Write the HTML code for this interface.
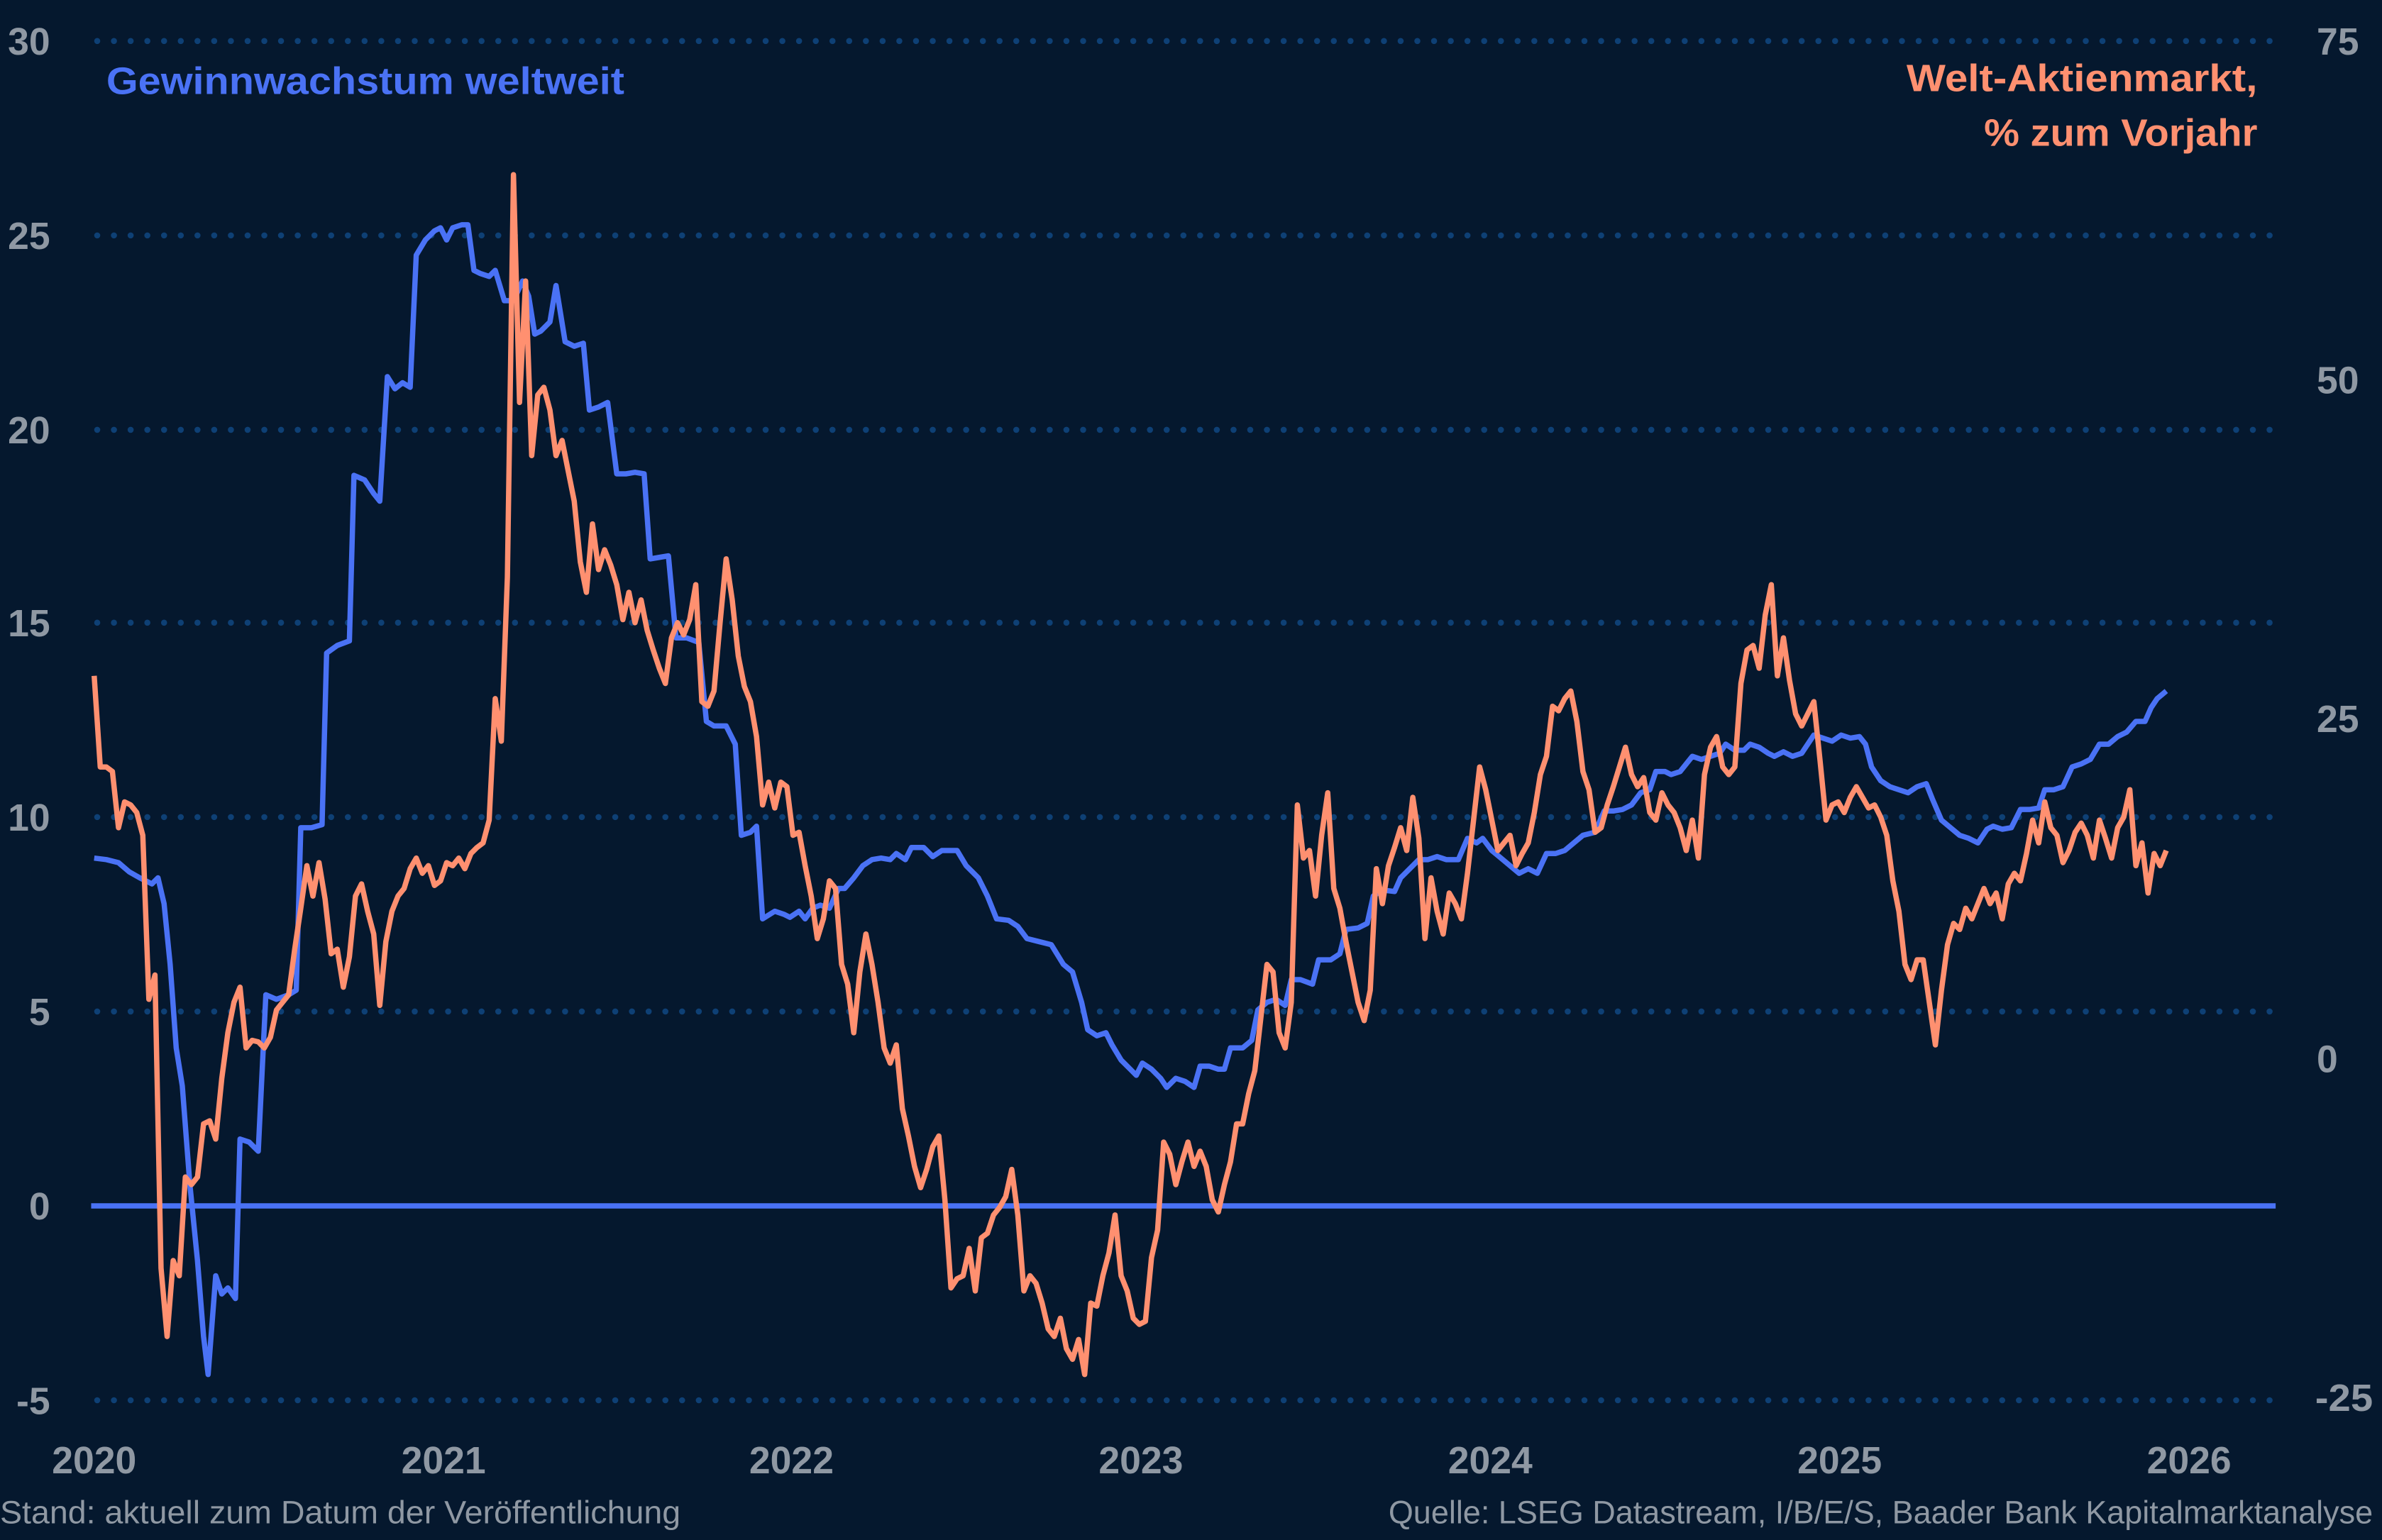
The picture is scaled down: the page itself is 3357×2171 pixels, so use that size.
<!DOCTYPE html>
<html><head><meta charset="utf-8"><style>
html,body{margin:0;padding:0;background:#05182e;}
svg{display:block}
text{font-family:"Liberation Sans Narrow","Liberation Sans",sans-serif;}
</style></head><body>
<svg width="3357" height="2171" viewBox="0 0 1568 1014" preserveAspectRatio="none" xmlns="http://www.w3.org/2000/svg">
<rect width="1568" height="1014" fill="#05182e"/>
<g stroke="#0e4075" stroke-width="4" stroke-linecap="round" stroke-dasharray="0 11">
<line x1="64" y1="27" x2="1495" y2="27"/>
<line x1="64" y1="155" x2="1495" y2="155"/>
<line x1="64" y1="283" x2="1495" y2="283"/>
<line x1="64" y1="410" x2="1495" y2="410"/>
<line x1="64" y1="538" x2="1495" y2="538"/>
<line x1="64" y1="666" x2="1495" y2="666"/>
<line x1="64" y1="922" x2="1495" y2="922"/>
</g>
<line x1="60" y1="794" x2="1498" y2="794" stroke="#4a72f5" stroke-width="3.5"/>
<g fill="#8f98a3" font-size="25" font-weight="bold">
<text x="33" y="36" text-anchor="end">30</text>
<text x="33" y="164" text-anchor="end">25</text>
<text x="33" y="292" text-anchor="end">20</text>
<text x="33" y="419" text-anchor="end">15</text>
<text x="33" y="547" text-anchor="end">10</text>
<text x="33" y="675" text-anchor="end">5</text>
<text x="33" y="803" text-anchor="end">0</text>
<text x="33" y="931" text-anchor="end">-5</text>
<text x="1525" y="36">75</text>
<text x="1525" y="259">50</text>
<text x="1525" y="482">25</text>
<text x="1525" y="706">0</text>
<text x="1524" y="929" textLength="38" lengthAdjust="spacingAndGlyphs">-25</text>
<g text-anchor="middle">
<text x="62" y="970">2020</text><text x="292" y="970">2021</text><text x="521" y="970">2022</text>
<text x="751" y="970">2023</text><text x="981" y="970">2024</text><text x="1211" y="970">2025</text><text x="1441" y="970">2026</text>
</g>
</g>
<g fill="#8f98a3" font-size="21">
<text x="0" y="1003" textLength="448" lengthAdjust="spacingAndGlyphs">Stand: aktuell zum Datum der Veröffentlichung</text>
<text x="914" y="1003" textLength="648" lengthAdjust="spacingAndGlyphs">Quelle: LSEG Datastream, I/B/E/S, Baader Bank Kapitalmarktanalyse</text>
</g>
<text x="70" y="62" fill="#4a72f5" font-size="25" font-weight="bold" textLength="341" lengthAdjust="spacingAndGlyphs">Gewinnwachstum weltweit</text>
<g fill="#ff9070" font-size="25" font-weight="bold">
<text x="1255" y="60" textLength="231" lengthAdjust="spacingAndGlyphs">Welt-Aktienmarkt,</text>
<text x="1306" y="96" textLength="180" lengthAdjust="spacingAndGlyphs">% zum Vorjahr</text>
</g>
<polyline fill="none" stroke="#4a72f5" stroke-width="3.5" stroke-linejoin="round" points="62,565 70,566 78,568 85,574 92,578 100,582 104,578 108,595 112,635 116,690 120,715 125,780 130,830 134,880 137,905 142,840 146,852 150,848 155,855 158,750 164,752 170,758 175,655 182,658 190,655 195,652 198,545 205,545 212,543 215,430 222,425 230,422 233,313 240,316 246,325 250,330 255,248 260,256 265,252 270,255 274,168 280,158 286,152 290,150 294,158 298,150 304,148 308,148 312,178 316,180 322,182 326,178 332,198 338,198 344,185 348,195 352,220 356,218 362,212 366,188 372,225 378,228 384,226 388,270 394,268 400,265 406,312 412,312 418,311 424,312 428,368 434,367 440,366 445,420 452,420 460,423 465,475 470,478 478,478 484,490 488,550 494,548 498,544 502,605 510,600 516,602 520,604 526,600 530,605 535,598 540,596 546,598 552,585 556,585 562,578 568,570 574,566 580,565 586,566 590,562 596,566 600,558 608,558 614,564 620,560 630,560 636,570 644,578 650,590 656,605 664,606 670,610 676,618 684,620 692,622 700,635 706,640 712,660 716,678 722,682 728,680 732,688 738,698 744,704 748,708 752,700 758,704 764,710 768,716 774,710 780,712 786,716 790,702 796,702 802,704 806,704 810,690 818,690 824,685 828,665 834,660 840,658 846,662 850,645 856,645 864,648 868,632 876,632 882,628 886,612 894,611 900,608 904,590 910,586 918,587 922,578 928,572 934,566 940,566 946,564 952,566 960,566 966,552 972,555 976,552 982,560 988,565 994,570 1000,575 1006,572 1012,575 1018,562 1024,562 1030,560 1036,555 1042,550 1050,548 1056,534 1062,534 1068,533 1074,530 1080,522 1086,520 1090,508 1096,508 1100,510 1106,508 1114,498 1120,500 1126,498 1132,496 1136,490 1142,494 1148,494 1152,490 1158,492 1164,496 1168,498 1174,495 1180,498 1186,496 1190,490 1194,484 1200,486 1206,488 1212,484 1218,486 1224,485 1228,490 1232,505 1238,514 1244,518 1250,520 1256,522 1262,518 1268,516 1272,526 1278,540 1284,545 1290,550 1296,552 1302,555 1308,546 1312,544 1318,546 1324,545 1330,533 1336,533 1342,532 1346,520 1352,520 1358,518 1364,505 1370,503 1376,500 1382,490 1388,490 1394,485 1400,482 1406,475 1412,475 1416,466 1420,460 1426,455"/>
<polyline fill="none" stroke="#ff9070" stroke-width="3.5" stroke-linejoin="round" points="62,445 66,505 70,505 74,508 78,545 82,528 86,530 90,535 94,550 98,658 102,642 106,835 110,880 114,830 118,840 122,775 126,780 130,775 134,740 138,738 142,750 146,710 150,680 154,660 158,650 162,690 166,685 170,686 174,690 178,683 182,665 186,660 190,655 194,625 198,598 202,570 206,590 210,568 214,592 218,628 222,625 226,650 230,630 234,590 238,582 242,600 246,615 250,662 254,620 258,600 262,590 266,585 270,572 274,565 278,575 282,570 286,583 290,580 294,568 298,570 302,565 306,572 310,562 314,558 318,555 322,540 326,460 330,488 334,380 338,115 342,265 346,185 350,300 354,260 358,255 362,270 366,300 370,290 374,310 378,330 382,370 386,390 390,345 394,375 398,362 402,372 406,385 410,408 414,390 418,410 422,395 426,415 430,428 434,440 438,450 442,420 446,410 450,418 454,408 458,385 462,462 466,465 470,455 474,410 478,368 482,395 486,432 490,452 494,462 498,485 502,530 506,515 510,532 514,515 518,518 522,550 526,548 530,570 534,590 538,618 542,605 546,580 550,585 554,635 558,648 562,680 566,640 570,615 574,635 578,660 582,690 586,700 590,688 594,730 598,748 602,768 606,782 610,770 614,755 618,748 622,790 626,848 630,842 634,840 638,822 642,850 646,815 650,812 654,800 658,795 662,788 666,770 670,800 674,850 678,840 682,845 686,858 690,875 694,880 698,868 702,888 706,895 710,882 714,905 718,858 722,860 726,840 730,825 734,800 738,840 742,850 746,868 750,872 754,870 758,828 762,810 766,752 770,760 774,780 778,765 782,752 786,768 790,758 794,768 798,790 802,798 806,780 810,765 814,740 818,740 822,720 826,705 830,670 834,635 838,640 842,680 846,690 850,660 854,530 858,565 862,560 866,590 870,550 874,522 878,585 882,598 886,620 890,640 894,660 898,672 902,652 906,572 910,595 914,570 918,558 922,545 926,560 930,525 934,552 938,618 942,578 946,600 950,615 954,588 958,595 962,605 966,575 970,540 974,505 978,520 982,540 986,560 990,555 994,550 998,570 1002,562 1006,555 1010,535 1014,510 1018,498 1022,465 1026,468 1030,460 1034,455 1038,475 1042,508 1046,520 1050,548 1054,545 1058,530 1062,518 1066,505 1070,492 1074,510 1078,518 1082,512 1086,535 1090,540 1094,522 1098,530 1102,535 1106,545 1110,560 1114,540 1118,565 1122,510 1126,492 1130,485 1134,505 1138,510 1142,505 1146,450 1150,428 1154,425 1158,440 1162,405 1166,385 1170,445 1174,420 1178,448 1182,470 1186,478 1190,470 1194,462 1198,500 1202,540 1206,530 1210,528 1214,535 1218,525 1222,518 1226,525 1230,532 1234,530 1238,538 1242,550 1246,580 1250,600 1254,635 1258,645 1262,632 1266,632 1270,660 1274,688 1278,652 1282,622 1286,608 1290,612 1294,598 1298,605 1302,595 1306,585 1310,595 1314,588 1318,605 1322,582 1326,575 1330,580 1334,562 1338,540 1342,555 1346,528 1350,545 1354,550 1358,568 1362,560 1366,548 1370,542 1374,550 1378,565 1382,540 1386,552 1390,565 1394,545 1398,538 1402,520 1406,570 1410,555 1414,588 1418,562 1422,570 1426,560"/>
</svg>
</body></html>
